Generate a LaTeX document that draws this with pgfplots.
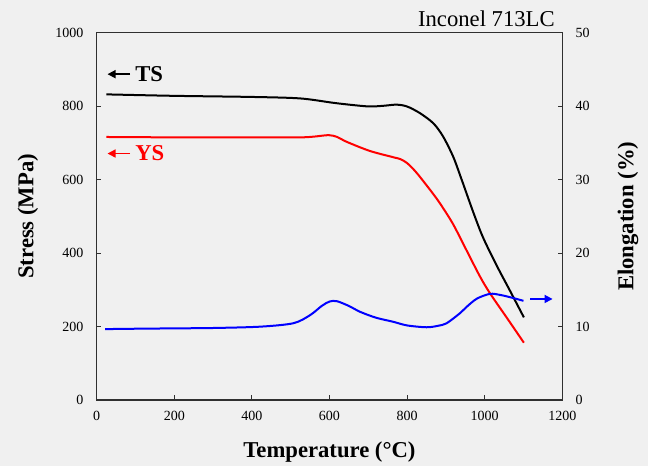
\documentclass[border=0pt]{standalone}
\usepackage{fontspec}
\setmainfont{Liberation Serif}
\usepackage{pgfplots}
\pgfplotsset{compat=1.18}
\usetikzlibrary{arrows.meta}
\definecolor{bg}{HTML}{F0F0F0}
\definecolor{ysred}{HTML}{FF0000}
\definecolor{elblue}{HTML}{0000FF}
\definecolor{axisgray}{HTML}{303030}

\begin{document}
\begin{tikzpicture}
  \fill[bg] (-72.5pt,-49.5pt) rectangle (413.5pt,300pt);
  \useasboundingbox (-72.5pt,-49.5pt) rectangle (413.5pt,300pt);
  \pgfplotsset{
    base/.style={
      at={(0,0)},anchor=south west,scale only axis,
      width=349.2pt,height=275.5pt,
      xmin=0,xmax=1200,
      tick align=inside,major tick length=3.5pt,
      axis line style={axisgray,line width=0.8pt},
      every tick/.style={axisgray,line width=0.8pt},
      tick label style={font=\fontsize{10.5}{12}\selectfont},
      /pgf/number format/assume math mode=true,
      /pgf/number format/set thousands separator={},
      label style={font=\fontsize{17}{20}\selectfont\bfseries},
      clip=false}}
  \begin{axis}[base,
      ymin=0,ymax=1000,
      xtick={0,200,...,1200},ytick={0,200,...,1000},
      xtick pos=bottom,ytick pos=left,
      scaled ticks=false,
      xticklabel style={yshift=-5pt},
      yticklabel style={xshift=-6.5pt},
      xlabel={Temperature (\textdegree C)},
      ylabel={Stress (MPa)},
      xlabel style={at={([yshift=-39pt]rel axis cs:0.5,0)},anchor=center},
      ylabel style={at={([xshift=-51.5pt]rel axis cs:0,0.5)},anchor=center}]
    % TS
    \addplot[black,line width=1.5pt,smooth] coordinates {
      (25,832) (200,828) (400,825) (524,821) (610,809) (660,803)
      (704,799) (740,801) (773,804) (800,799) (833,781) (868,753)
      (893,717) (919,662) (941,599) (971,510) (996,442) (1031,366)
      (1065,298) (1101,225)};
    % YS
    \addplot[ysred,line width=1.5pt,smooth] coordinates {
      (25,716) (200,715) (400,715) (524,715) (560,717) (598,721)
      (620,716) (644,703) (704,678) (764,661) (782,656) (800,645)
      (825,618) (868,560) (890,527) (919,478) (953,408)
      (988,336) (1014,290) (1057,224) (1101,156)};
    \draw[black,line width=1.2pt,-{Triangle[length=6pt,width=6pt]}]
      (axis cs:86,887) -- (axis cs:28,887);
    \node[anchor=west,font=\fontsize{17}{20}\selectfont\bfseries,inner sep=0pt]
      at (axis cs:99,887) {TS};
    \draw[ysred,line width=1.2pt,-{Triangle[length=6pt,width=6pt]}]
      (axis cs:86,671) -- (axis cs:28,671);
    \node[anchor=west,text=ysred,font=\fontsize{17}{20}\selectfont\bfseries,inner sep=0pt]
      at (axis cs:99,671) {YS};
    \node[anchor=base east,font=\fontsize{17}{20}\selectfont,inner sep=0pt]
      at ([shift={(-5.5pt,4.3pt)}]rel axis cs:1,1) {Inconel 713LC};
  \end{axis}
  \begin{axis}[base,
      ymin=0,ymax=50,
      ytick={0,10,...,50},
      hide x axis,axis y line*=right,
      yticklabel style={xshift=6.5pt},
      ylabel={Elongation (\%)},
      ylabel style={at={([xshift=49.3pt]rel axis cs:1,0.5)},anchor=center,rotate=0}]
    \addplot[elblue,line width=1.5pt,smooth] coordinates {
      (22,9.65) (100,9.7) (200,9.75) (300,9.8) (421,9.98) (507,10.45)
      (550,11.55) (580,12.8) (600,13.4) (619,13.45) (650,12.8)
      (679,12.0) (720,11.2) (764,10.65) (800,10.15) (850,9.9) (880,10.1)
      (902,10.45) (936,11.8) (954,12.7) (980,13.8) (1014,14.45)
      (1040,14.3) (1065,14.0) (1100,13.5)};
    \draw[elblue,line width=1.2pt,-{Triangle[length=6pt,width=6pt]}]
      (axis cs:1117,13.75) -- (axis cs:1175,13.75);
  \end{axis}
\end{tikzpicture}
\end{document}
